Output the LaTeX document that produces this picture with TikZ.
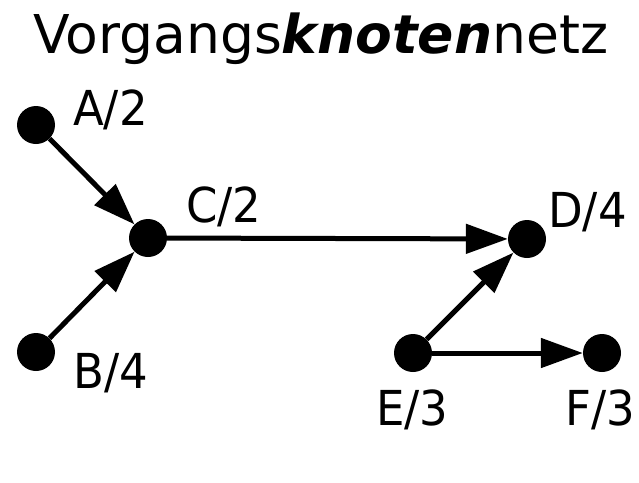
\documentclass[tikz,border=0pt]{standalone}
\usepackage{fontspec}
\setmainfont{DejaVu Sans}
\usetikzlibrary{arrows.meta}
\newcommand{\tallt}[1]{\scalebox{1}[1.07]{#1}}
\begin{document}
\begin{tikzpicture}[x=1pt,y=-1pt,
  dot/.style={circle,fill=black,minimum size=38pt,inner sep=0pt},
  lbl/.style={inner sep=0pt,font=\fontsize{45}{45}\selectfont,anchor=base west},
  arr/.style={line width=5pt,-{Triangle[length=42pt,width=29pt]},shorten >=0pt}]
\useasboundingbox (0,0) rectangle (639,482);
\node[inner sep=0pt,anchor=base west,font=\fontsize{53.5}{53.5}\selectfont] (title) at (33,53) {Vorgangs{\bfseries\itshape knoten}netz};
\node[dot] (A) at (36,125) {};
\node[dot] (B) at (36,352) {};
\node[dot] (C) at (148,238) {};
\node[dot] (D) at (527,239) {};
\node[dot] (E) at (413,353) {};
\node[dot] (F) at (602,353) {};
\node[lbl] (la) at (73,125) {\tallt{A/2}};
\node[lbl] (lb) at (73,388) {\tallt{B/4}};
\node[lbl] (lc) at (186,222) {\tallt{C/2}};
\node[lbl] (ld) at (548,227) {\tallt{D/4}};
\node[lbl] (le) at (376,425) {\tallt{E/3}};
\node[lbl] (lf) at (565,425) {\tallt{F/3}};
\draw[arr] (A) -- (C);
\draw[arr] (B) -- (C);
\draw[arr] (C) -- (D);
\draw[arr] (E) -- (D);
\draw[arr] (E) -- (F);
\end{tikzpicture}
\end{document}
